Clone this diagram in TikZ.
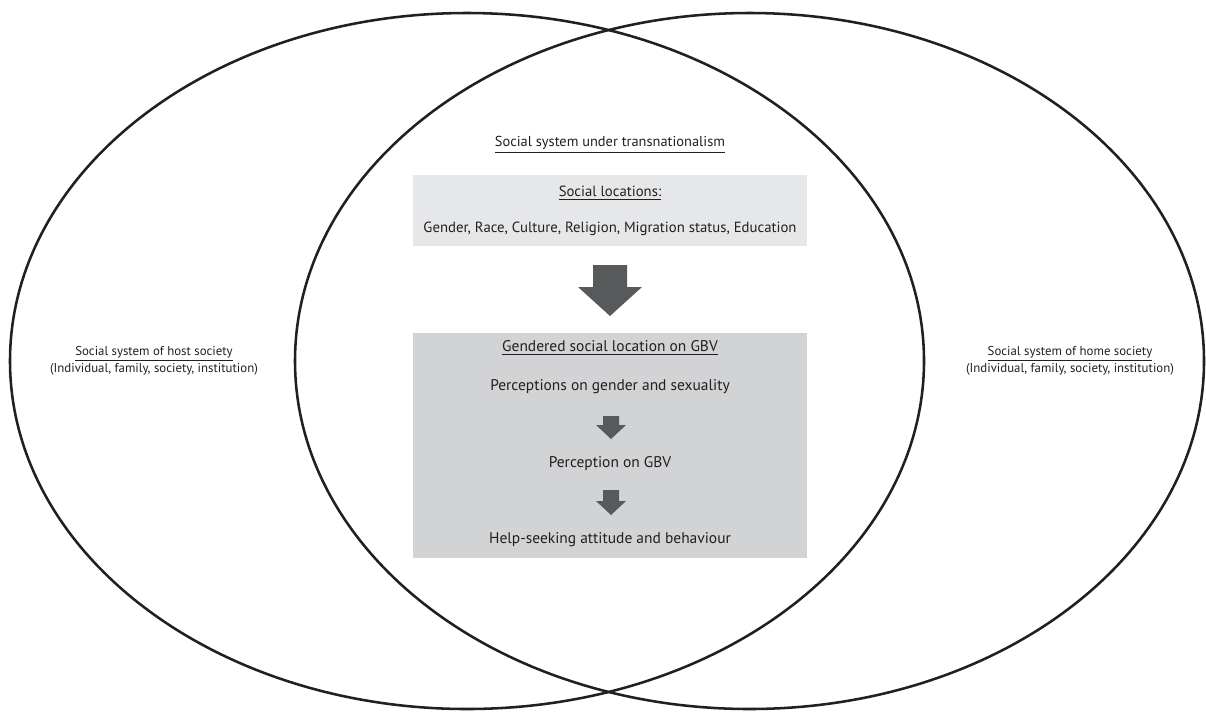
\documentclass[tikz,border=0pt]{standalone}
\usepackage{fontspec}
\setmainfont{PT Sans}
\usepackage{xcolor}
\usetikzlibrary{positioning}
\definecolor{ink}{HTML}{231F20}
\definecolor{lightbox}{HTML}{E6E7E8}
\definecolor{darkbox}{HTML}{D1D3D4}
\definecolor{arrowgray}{HTML}{58595B}
% down arrow: centre x, top y, tip y, shaft half width, head half width, head length
\newcommand{\downarrowshape}[6]{%
  \fill[arrowgray] (#1-#4,#2) -- (#1+#4,#2) -- (#1+#4,#3-#6) -- (#1+#5,#3-#6)
    -- (#1,#3) -- (#1-#5,#3-#6) -- (#1-#4,#3-#6) -- cycle;}
\begin{document}
\begin{tikzpicture}[x=0.02cm,y=-0.02cm,
    txt/.style={font=\fontsize{8.4}{10}\selectfont,text=ink,inner sep=0pt,align=center},
    bigtxt/.style={txt,font=\fontsize{8.8}{10}\selectfont},
    sidetxt/.style={txt,font=\fontsize{7.3}{8.6}\selectfont},
    panel/.style={minimum width=7.88cm,inner sep=0pt}]
		\useasboundingbox (0,0) rectangle (1206,711);
		% the two social systems
		\draw[ink,line width=1.45pt] (467,361) ellipse [x radius=457,y radius=348];
			\draw[ink,line width=1.45pt] (749.5,361) ellipse [x radius=454.5,y radius=348];
		% boxes
		\node[panel,fill=lightbox,minimum height=1.42cm] (locbox) at (610,210.5) {};
		\node[panel,fill=darkbox,minimum height=4.5cm] (gbvbox) at (610,445.5) {};
		% texts
		\node[txt,font=\fontsize{8.2}{10}\selectfont] (trans) at (610,145) {\underline{Social system under transnationalism}};
		\node[txt] (loc) at (610,193) {\underline{Social locations:}};
		\node[txt] (loclist) at (610,229) {Gender, Race, Culture, Religion, Migration status, Education};
		\node[bigtxt] (gend) at (610,348) {\underline{Gendered social location on GBV}};
		\node[bigtxt] (perc) at (610,387) {Perceptions on gender and sexuality};
		\node[bigtxt] (pgbv) at (610,464) {Perception on GBV};
		\node[bigtxt] (help) at (610,540) {Help-seeking attitude and behaviour};
		\node[sidetxt] (host) at (154,361) {\underline{Social system of host society}\\(Individual, family, society, institution)};
		\node[sidetxt] (home) at (1070,361) {\underline{Social system of home society}\\(Individual, family, society, institution)};
		% arrows
		\downarrowshape{610}{265}{316}{17}{32}{29}
		\downarrowshape{611}{416}{439}{8}{15}{14}
		\downarrowshape{611}{490}{515}{8}{15}{14}
	\end{tikzpicture}
\end{document}
